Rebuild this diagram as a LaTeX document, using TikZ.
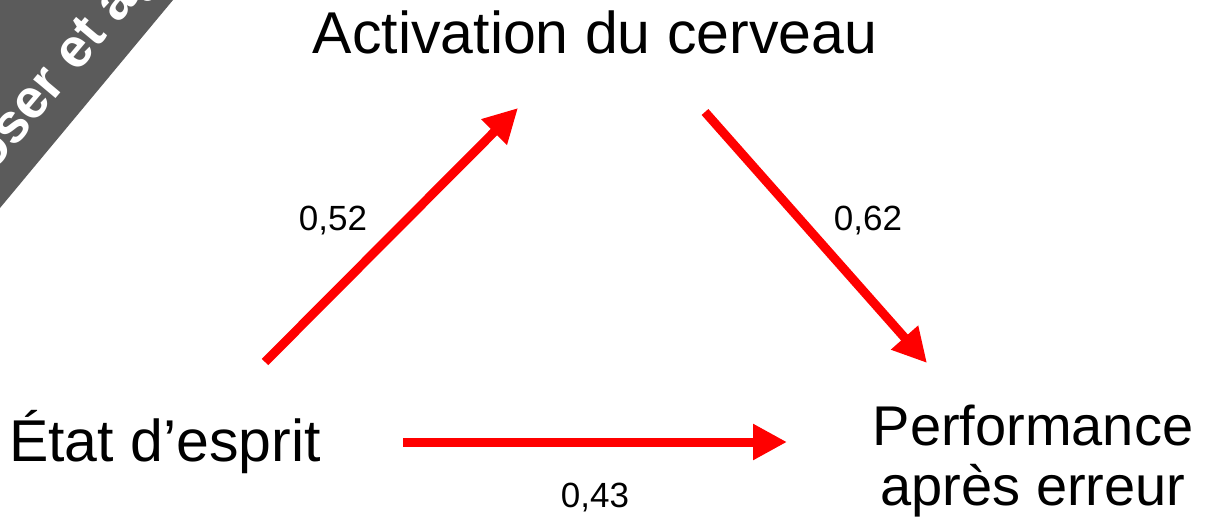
\documentclass[tikz,border=0pt]{standalone}
\usepackage{fontspec}
\setmainfont{Liberation Sans}
\usetikzlibrary{arrows.meta}
\definecolor{bandgray}{HTML}{5B5B5B}
\definecolor{arrred}{HTML}{FF0000}
\tikzset{
  label/.style={font=\fontsize{59}{60}\selectfont, inner sep=0pt, align=center},
  weight/.style={font=\fontsize{35}{40}\selectfont, inner sep=0pt},
  link/.style={draw=arrred, line width=9pt, -{Triangle[length=34pt,width=34pt]}},
}
\begin{document}
\begin{tikzpicture}[x=1pt,y=-1pt]
\useasboundingbox (0,0) rectangle (1220,527);
\begin{scope}
  \clip (0,0) rectangle (1220,527);
  \fill[bandgray] (0,0) -- (173,0) -- (0,208) -- cycle;
  \node[rotate=50, anchor=base west, inner sep=0pt, text=white,
        font=\fontsize{55}{60}\selectfont\bfseries] (band) at (-88,270) {Proposer et agir};
\end{scope}
\node[label, anchor=base] (act) at (595,53) {Activation du cerveau};
\node[label, anchor=base west] (etat) at (9,461) {État d’esprit};
\node[label, font=\fontsize{56}{60}\selectfont, anchor=base] (perf) at (1033,505) {Performance\\après erreur};
\coordinate (a1s) at (265,362);
\coordinate (a1e) at (518,108);
\coordinate (a2s) at (705,112);
\coordinate (a2e) at (927,363);
\coordinate (a3s) at (403,442);
\coordinate (a3e) at (787,442);
\draw[link] (a1s) -- (a1e);
\draw[link] (a2s) -- (a2e);
\draw[link] (a3s) -- (a3e);
\node[weight] (w1) at (333,221) {0,52};
\node[weight] (w2) at (868,221) {0,62};
\node[weight] (w3) at (595,498) {0,43};
\end{tikzpicture}
\end{document}
